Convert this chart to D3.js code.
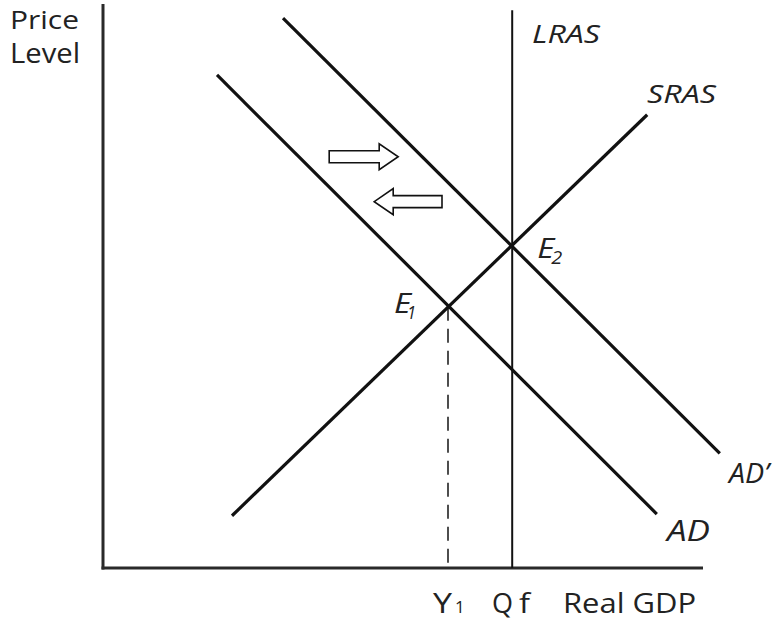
<!DOCTYPE html>
<html>
<head>
<meta charset="utf-8">
<script src="https://cdn.jsdelivr.net/npm/d3@7"></script>
<style>
  html, body { margin: 0; padding: 0; background: #fff; }
  svg { display: block; }
  text { font-family: "Open Sans", "Lato", sans-serif; fill: #222; }
</style>
</head>
<body>
<div id="chart"></div>
<script>
// ---- Data (model units: x = real GDP, y = price level) ----
const curveNames = ["AD", "AD'", "SRAS"];
const curveX1 = [19.0, 30.0, 21.5];
const curveY1 = [86.8, 96.8, 9.2];
const curveX2 = [92.3, 102.8, 90.7];
const curveY2 = [9.5, 20.2, 79.8];

const lrasX = 68.2;          // full-employment output Qf
const lrasTop = 98.2;
const equilibriumNames = ["E1", "E2"];
const equilibriumX = [57.5, 68.2];
const equilibriumY = [46.0, 56.9];

const arrowTailX = [37.7, 56.5];
const arrowTipX = [49.2, 45.2];
const arrowY = [72.4, 64.5];

const xTickLabels = ["Y1", "Qf"];
const xTickValues = [57.5, 68.2];

// ---- Layout ----
const W = 780, H = 621;
const svg = d3.select("#chart").append("svg").attr("width", W).attr("height", H);

const x = d3.scaleLinear().domain([0, 100]).range([103, 703]);
const y = d3.scaleLinear().domain([0, 100]).range([568, 0]);

// Axes
svg.append("line").attr("x1", x(0)).attr("x2", x(0)).attr("y1", y(99.3)).attr("y2", y(0) + 1.5)
  .attr("stroke", "#2a2a2a").attr("stroke-width", 3);
svg.append("line").attr("x1", x(0) - 1.5).attr("x2", x(100)).attr("y1", y(0)).attr("y2", y(0))
  .attr("stroke", "#2a2a2a").attr("stroke-width", 3);

// Dashed line from E1 down to axis
svg.append("line")
  .attr("x1", x(equilibriumX[0])).attr("x2", x(equilibriumX[0]))
  .attr("y1", y(equilibriumY[0])).attr("y2", y(0))
  .attr("stroke", "#222").attr("stroke-width", 1.6).attr("stroke-dasharray", "14,8");

// LRAS
svg.append("line").attr("x1", x(lrasX)).attr("x2", x(lrasX)).attr("y1", y(lrasTop)).attr("y2", y(0))
  .attr("stroke", "#111").attr("stroke-width", 2);

// Curves
svg.selectAll("line.curve").data(curveNames).enter().append("line")
  .attr("class", "curve")
  .attr("x1", (d, i) => x(curveX1[i])).attr("y1", (d, i) => y(curveY1[i]))
  .attr("x2", (d, i) => x(curveX2[i])).attr("y2", (d, i) => y(curveY2[i]))
  .attr("stroke", "#111").attr("stroke-width", 3.2).attr("stroke-linecap", "butt");

// Hollow arrows
function arrowPath(tx, px, py) {
  const dir = px > tx ? 1 : -1;
  const hl = 19, sh = 6, hh = 13;
  const bx = px - dir * hl;
  return `M${tx},${py - sh} L${bx},${py - sh} L${bx},${py - hh} L${px},${py} L${bx},${py + hh} L${bx},${py + sh} L${tx},${py + sh} Z`;
}
svg.selectAll("path.arrow").data(arrowY).enter().append("path")
  .attr("class", "arrow")
  .attr("d", (d, i) => arrowPath(x(arrowTailX[i]), x(arrowTipX[i]), y(d)))
  .attr("fill", "#fff").attr("stroke", "#111").attr("stroke-width", 1.6).attr("stroke-linejoin", "miter");

// Generic text helper with fixed width
function label(tx, ty, s, size, width, italic) {
  const t = svg.append("text").attr("x", tx).attr("y", ty).attr("font-size", size).text(s);
  if (italic) t.attr("font-style", "italic");
  if (width) t.attr("textLength", width).attr("lengthAdjust", "spacingAndGlyphs");
  return t;
}

// Axis titles
label(10, 29, "Price", 26, 69);
label(10, 63, "Level", 27, 70);
label(563, 613, "Real GDP", 28, 133);

// X tick labels
label(433, 613, "Y", 28, 19);
label(455, 613, "1", 17);
label(492, 613, "Q", 28, 21);
label(519, 613, "f", 28, 11);

// Curve labels (italic)
label(532, 43, "LRAS", 25, 68, true);
label(647, 103, "SRAS", 25, 69, true);
label(729, 483, "AD\u2019", 28, 40, true);
label(667, 541, "AD", 29, 43, true);

// Equilibrium labels
const e1x = x(equilibriumX[0]), e1y = y(equilibriumY[0]);
label(e1x - 54, e1y + 6, "E", 27, 17, true);
label(e1x - 41, e1y + 12, "1", 18, 9, true);
const e2x = x(equilibriumX[1]), e2y = y(equilibriumY[1]);
label(e2x + 25, e2y + 13, "E", 27, 17, true);
label(e2x + 39, e2y + 19, "2", 18, 11, true);
</script>
</body>
</html>
